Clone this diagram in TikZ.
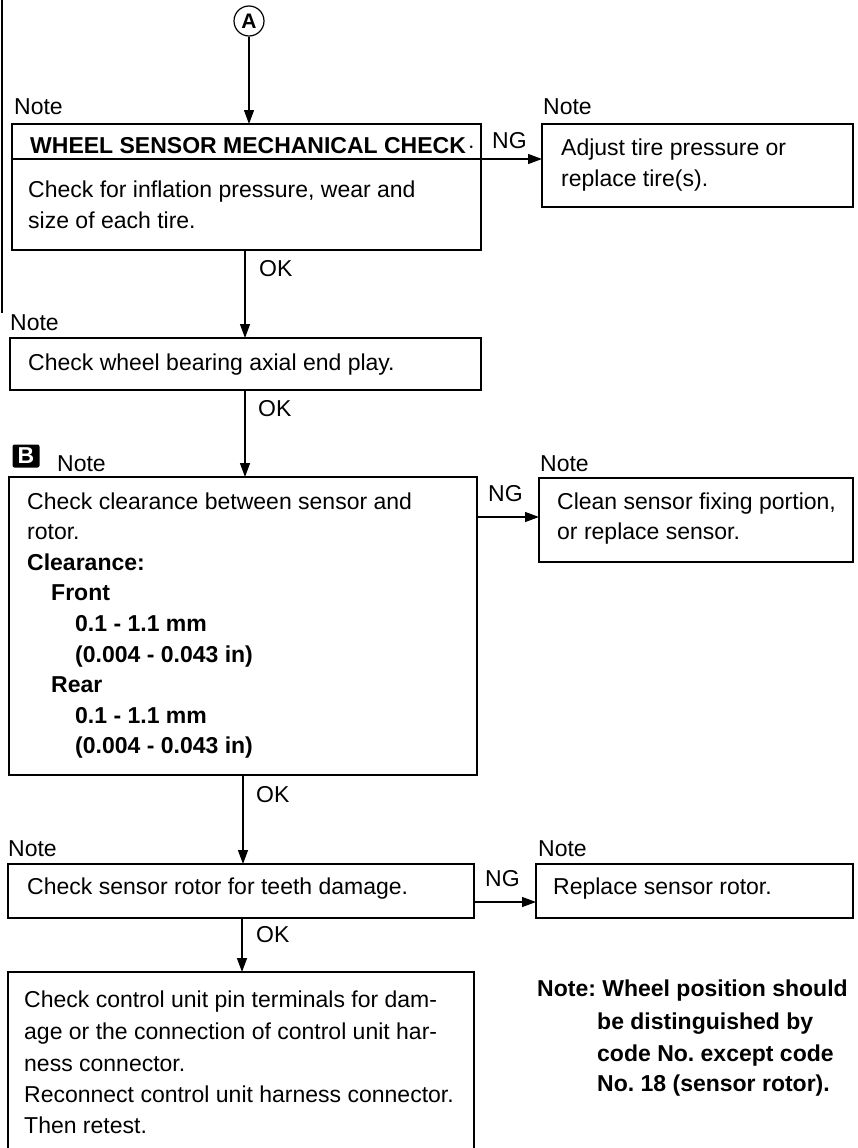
\documentclass[tikz,border=0pt]{standalone}
\usepackage{fontspec}
\setmainfont{Liberation Sans}
\usetikzlibrary{arrows.meta}
\begin{document}
\begin{tikzpicture}[x=1pt,y=-1pt,
  box/.style={draw, line width=1.3pt, inner sep=0pt, outer sep=0pt, anchor=north west},
  txt/.style={anchor=base west, inner sep=0pt, font=\fontsize{23}{28}\selectfont},
  btxt/.style={anchor=base west, inner sep=0pt, font=\fontsize{23}{28}\selectfont\bfseries},
  arr/.style={line width=1.3pt, -{Triangle[length=14pt,width=10pt]}}]
\useasboundingbox (0,0) rectangle (858,1148);
\draw[line width=1.3pt] (2,0) -- (2,313);
% circle A
\node[draw, circle, line width=1.2pt, minimum size=30pt, inner sep=0pt, font=\fontsize{21}{21}\selectfont\bfseries] (cA) at (249,21) {A};
% box 1
\node[box, minimum width=469pt, minimum height=35pt] (b1h) at (12,124) {};
\node[box, minimum width=469pt, minimum height=91pt] (b1) at (12,159) {};
\node[txt] (n1) at (14,114) {Note};
\node[btxt] (t1h) at (30,153) {WHEEL SENSOR MECHANICAL CHECK\hspace{2pt}$\cdot$};
\node[txt] (t1a) at (28,197) {Check for inflation pressure, wear and};
\node[txt] (t1b) at (28,228) {size of each tire.};
% box 2
\node[box, minimum width=311pt, minimum height=83pt] (b2) at (542,124) {};
\node[txt] (n2) at (543,114) {Note};
\node[txt] (t2a) at (561,155) {Adjust tire pressure or};
\node[txt] (t2b) at (561,186) {replace tire(s).};
\node[txt] (ng1) at (492,148) {NG};
% box 3
\node[box, minimum width=471pt, minimum height=52pt] (b3) at (10,338) {};
\node[txt] (n3) at (10,330) {Note};
\node[txt] (t3) at (28,370) {Check wheel bearing axial end play.};
\node[txt] (ok1) at (259,276) {OK};
% box 4
\node[fill=black, rounded corners=2pt, minimum width=27pt, minimum height=23pt, inner sep=0pt, text=white, font=\fontsize{23}{23}\selectfont\bfseries] (bB) at (26,456) {B};
\node[txt] (n4) at (57,471) {Note};
\node[box, minimum width=468pt, minimum height=298pt] (b4) at (9,477) {};
\node[txt] (t4a) at (27,509) {Check clearance between sensor and};
\node[txt] (t4b) at (27,539) {rotor.};
\node[btxt] (t4c) at (27,570) {Clearance:};
\node[btxt] (t4d) at (51,600) {Front};
\node[btxt] (t4e) at (75,631) {0.1 - 1.1 mm};
\node[btxt] (t4f) at (75,662) {(0.004 - 0.043 in)};
\node[btxt] (t4g) at (51,692) {Rear};
\node[btxt] (t4h) at (75,723) {0.1 - 1.1 mm};
\node[btxt] (t4i) at (75,753) {(0.004 - 0.043 in)};
\node[txt] (ok2) at (258,416) {OK};
% box 5
\node[box, minimum width=314pt, minimum height=84pt] (b5) at (539,478) {};
\node[txt] (n5) at (540,471) {Note};
\node[txt] (t5a) at (557,509) {Clean sensor fixing portion,};
\node[txt] (t5b) at (557,539) {or replace sensor.};
\node[txt] (ng2) at (488,501) {NG};
% box 6
\node[box, minimum width=466pt, minimum height=54pt] (b6) at (8,864) {};
\node[txt] (n6) at (8,856) {Note};
\node[txt] (t6) at (27,894) {Check sensor rotor for teeth damage.};
\node[txt] (ok3) at (256,802) {OK};
% box 7
\node[box, minimum width=317pt, minimum height=54pt] (b7) at (536,864) {};
\node[txt] (n7) at (538,856) {Note};
\node[txt] (t7) at (553,894) {Replace sensor rotor.};
\node[txt] (ng3) at (485,886) {NG};
% box 8
\node[box, minimum width=466pt, minimum height=178pt] (b8) at (8,972) {};
\node[txt] (t8a) at (24,1007) {Check control unit pin terminals for dam-};
\node[txt] (t8b) at (24,1039) {age or the connection of control unit har-};
\node[txt] (t8c) at (24,1071) {ness connector.};
\node[txt] (t8d) at (24,1102) {Reconnect control unit harness connector.};
\node[txt] (t8e) at (24,1133) {Then retest.};
\node[txt] (ok4) at (256,942) {OK};
% note bottom right
\node[btxt] (nr1) at (537,996) {Note:\ Wheel position should};
\node[btxt] (nr2) at (597,1029) {be distinguished by};
\node[btxt] (nr3) at (597,1061) {code No.\ except code};
\node[btxt] (nr4) at (597,1091) {No.\ 18 (sensor rotor).};
% connectors
\coordinate (xa) at (245,0);
\coordinate (xb) at (243,0);
\coordinate (xc) at (242,0);
\coordinate (y2) at (0,517);
\coordinate (y3) at (0,902);
\draw[arr] (cA.south) -- (cA.south |- b1h.north);
\draw[arr] (b1h.south east) -- (b2.west |- b1h.south east);
\draw[arr] (b1.south -| xa) -- (b3.north -| xa);
\draw[arr] (b3.south -| xa) -- (b4.north -| xa);
\draw[arr] (b4.east |- y2) -- (b5.west |- y2);
\draw[arr] (b4.south -| xb) -- (b6.north -| xb);
\draw[arr] (b6.east |- y3) -- (b7.west |- y3);
\draw[arr] (b6.south -| xc) -- (b8.north -| xc);
\end{tikzpicture}
\end{document}
